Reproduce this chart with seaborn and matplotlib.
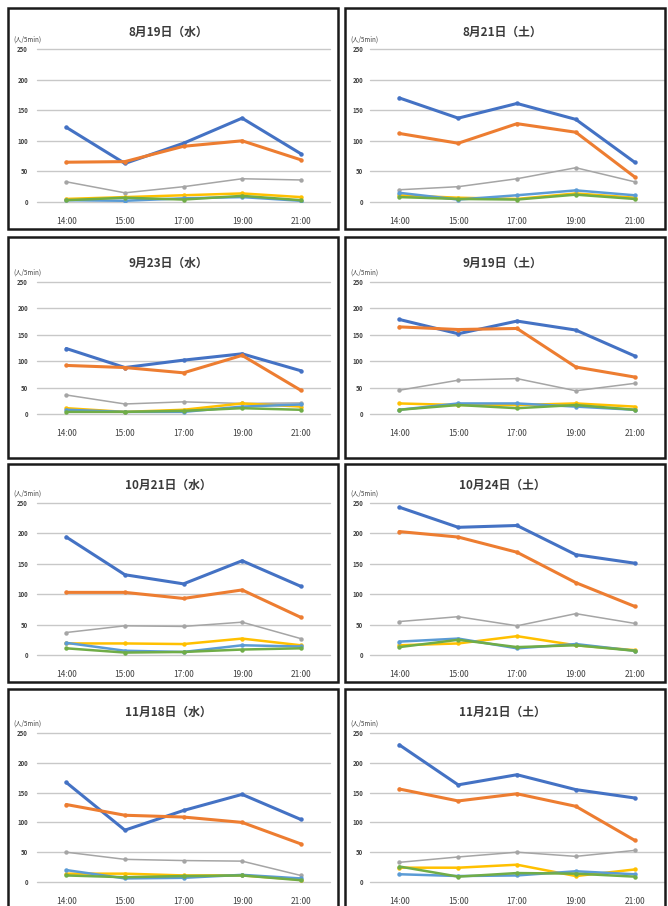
import matplotlib
matplotlib.use("Agg")
import matplotlib.pyplot as plt
from matplotlib.patches import Rectangle
import seaborn as sns
import pandas as pd

sns.set_theme(style="white")
plt.rcParams["font.family"] = ["Noto Sans CJK JP", "DejaVu Sans"]

# Survey times and panel titles
TIMES = ["14:00", "15:00", "17:00", "19:00", "21:00"]
TITLES = ["8月19日（水）", "8月21日（土）",
          "9月23日（水）", "9月19日（土）",
          "10月21日（水）", "10月24日（土）",
          "11月18日（水）", "11月21日（土）"]
UNIT = "(人/5min)"
Y_TICKS = [0, 50, 100, 150, 200, 250]

# Pedestrian counts per 5 minutes, one list per panel (same order as TITLES)
SERIES_1 = [[122, 63, 96, 137, 79], [170, 137, 161, 135, 65],
            [124, 88, 102, 114, 82], [179, 152, 176, 159, 110],
            [194, 132, 117, 155, 113], [243, 210, 213, 165, 151],
            [167, 87, 120, 147, 105], [230, 163, 180, 155, 141]]
SERIES_2 = [[65, 66, 91, 100, 69], [112, 96, 128, 114, 41],
            [92, 88, 78, 111, 45], [165, 160, 162, 89, 70],
            [103, 103, 93, 107, 62], [203, 194, 169, 119, 80],
            [130, 112, 109, 100, 64], [156, 136, 148, 127, 70]]
SERIES_3 = [[33, 15, 25, 38, 36], [20, 25, 38, 56, 33],
            [36, 19, 23, 20, 21], [45, 64, 67, 44, 58],
            [37, 48, 47, 54, 27], [55, 63, 48, 68, 52],
            [50, 38, 36, 35, 11], [33, 42, 50, 43, 53]]
SERIES_4 = [[5, 8, 11, 14, 8], [11, 7, 5, 14, 7],
            [11, 4, 8, 20, 14], [20, 17, 17, 20, 14],
            [19, 19, 18, 27, 16], [16, 19, 31, 16, 8],
            [14, 14, 11, 11, 4], [24, 24, 29, 10, 21]]
SERIES_5 = [[3, 2, 6, 8, 2], [15, 4, 11, 19, 11],
            [8, 4, 4, 14, 18], [8, 20, 20, 14, 8],
            [20, 7, 5, 16, 14], [22, 27, 11, 18, 7],
            [20, 6, 7, 12, 6], [13, 10, 11, 18, 13]]
SERIES_6 = [[3, 7, 4, 10, 3], [8, 5, 4, 12, 5],
            [4, 4, 6, 11, 8], [8, 17, 11, 17, 8],
            [11, 4, 5, 9, 11], [13, 25, 13, 16, 7],
            [11, 8, 10, 11, 3], [26, 9, 15, 14, 9]]

SERIES = [SERIES_1, SERIES_2, SERIES_3, SERIES_4, SERIES_5, SERIES_6]
COLORS = ["#4472C4", "#ED7D31", "#A5A5A5", "#FFC000", "#5B9BD5", "#70AD47"]
WIDTHS = [2.2, 2.2, 1.1, 1.8, 1.8, 1.8]

W, H = 668, 906
fig = plt.figure(figsize=(W / 100, H / 100), dpi=100)
fig.patch.set_facecolor("white")

# Pixel layout: columns (border x0, x1, axes x0, x1, y-label pad),
# rows (border y0, y1, grid top, grid bottom, title y)
COLS = [(8, 338, 37, 330, 6.5), (345, 665, 370, 664, 5.0)]
ROWS = [(8, 229, 49, 202, 32), (237, 458, 282, 414, 263),
        (464, 682, 503, 655, 485), (689, 912, 733, 882, 712)]


def fx(px):
    return px / W


def fy(py):
    return 1 - py / H


for i, title in enumerate(TITLES):
    r, c = divmod(i, 2)
    bx0, bx1, ax0, ax1, ypad = COLS[c]
    by0, by1, gt, gb, ty = ROWS[r]

    fig.patches.append(Rectangle((fx(bx0), fy(by1)), fx(bx1 - bx0), (by1 - by0) / H,
                                 transform=fig.transFigure, fill=False,
                                 edgecolor="#1a1a1a", linewidth=1.8, zorder=10))

    ax = fig.add_axes([fx(ax0), fy(gb), fx(ax1 - ax0), (gb - gt) / H])
    ax.set_facecolor("none")
    for k, s in enumerate(SERIES):
        df = pd.DataFrame({"time": TIMES, "count": s[i]})
        sns.lineplot(data=df, x="time", y="count", ax=ax, color=COLORS[k],
                     linewidth=WIDTHS[k], marker="o", markersize=3.2,
                     markeredgewidth=0, sort=False, zorder=3 + k)
    ax.set_xlim(-0.5, 4.5)
    ax.set_ylim(0, 250)
    ax.set_yticks(Y_TICKS)
    ax.set_yticklabels([str(v) for v in Y_TICKS], fontweight="bold")
    ax.yaxis.grid(True, color="#c8c8c8", linewidth=1.0, clip_on=False)
    ax.xaxis.grid(False)
    for sp in ax.spines.values():
        sp.set_visible(False)
    ax.tick_params(axis="y", length=0, pad=ypad, labelsize=4.3, labelcolor="#404040")
    ax.tick_params(axis="x", length=0, pad=11, labelsize=6, labelcolor="#404040")
    ax.set_xlabel("")
    ax.set_ylabel("")

    fig.text(fx((ax0 + ax1) / 2 - 15), fy(ty), title, ha="center", va="center",
             fontsize=8.5, fontweight="bold", color="#3a3a3a")
    fig.text(fx(bx0 + 5), fy(gt - 9), UNIT, ha="left", va="center",
             fontsize=4.5, color="#404040")

fig.savefig("out.png", dpi=100, facecolor="white")
